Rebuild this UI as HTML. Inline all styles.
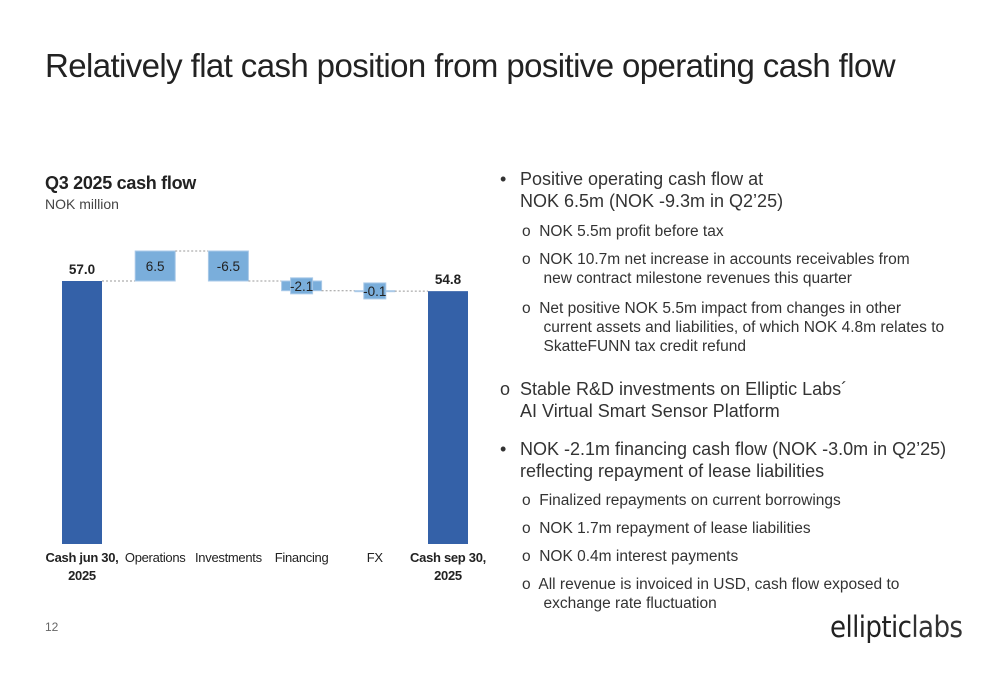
<!DOCTYPE html>
<html><head><meta charset="utf-8"><style>
body{margin:0;width:1000px;height:685px;background:#fff;font-family:"Liberation Sans",sans-serif;position:relative;overflow:hidden;color:#222}
.abs{position:absolute}
.t{font-size:33px;left:45px;top:47px;color:#222;font-weight:300;letter-spacing:-0.6px}
.b{position:absolute;font-size:18px;color:#333;line-height:22px}
.s{position:absolute;font-size:15.5px;color:#333;line-height:19px}
</style></head><body>
<div class="abs t">Relatively flat cash position from positive operating cash flow</div>
<div class="abs" style="left:45px;top:173px;font-size:18px;font-weight:bold;letter-spacing:-0.3px">Q3 2025 cash flow</div>
<div class="abs" style="left:45px;top:196px;font-size:14px;color:#444">NOK million</div>
<svg class="abs" style="left:0;top:0" width="500" height="600" id="ch"></svg>
<div class="abs" style="left:45px;top:620px;font-size:12px;color:#666">12</div>

<div class="b" style="left:500px;top:168px">•<span style="position:absolute;left:20px;width:400px">Positive operating cash flow at<br>NOK 6.5m (NOK -9.3m in Q2’25)</span></div>
<div class="s" style="left:522px;top:222px">o&nbsp; NOK 5.5m profit before tax</div>
<div class="s" style="left:522px;top:250px;width:420px">o&nbsp; NOK 10.7m net increase in accounts receivables from<br>&nbsp;&nbsp;&nbsp;&nbsp; new contract milestone revenues this quarter</div>
<div class="s" style="left:522px;top:299px;width:440px">o&nbsp; Net positive NOK 5.5m impact from changes in other<br>&nbsp;&nbsp;&nbsp;&nbsp; current assets and liabilities, of which NOK 4.8m relates to<br>&nbsp;&nbsp;&nbsp;&nbsp; SkatteFUNN tax credit refund</div>
<div class="b" style="left:500px;top:378px">o<span style="position:absolute;left:20px;width:400px">Stable R&amp;D investments on Elliptic Labs´<br>AI Virtual Smart Sensor Platform</span></div>
<div class="b" style="left:500px;top:438px">•<span style="position:absolute;left:20px;width:440px">NOK -2.1m financing cash flow (NOK -3.0m in Q2’25)<br>reflecting repayment of lease liabilities</span></div>
<div class="s" style="left:522px;top:491px">o&nbsp; Finalized repayments on current borrowings</div>
<div class="s" style="left:522px;top:519px">o&nbsp; NOK 1.7m repayment of lease liabilities</div>
<div class="s" style="left:522px;top:547px">o&nbsp; NOK 0.4m interest payments</div>
<div class="s" style="left:522px;top:575px;width:420px">o&nbsp; All revenue is invoiced in USD, cash flow exposed to<br>&nbsp;&nbsp;&nbsp;&nbsp; exchange rate fluctuation</div>
<div class="abs" style="left:830px;top:610px;font-size:29px;color:#222;font-family:'DejaVu Sans Condensed','DejaVu Sans',sans-serif;letter-spacing:-0.6px">elliptic<span style="font-weight:200;color:#333">labs</span></div>

<script>
const categories=["Cash jun 30, 2025","Operations","Investments","Financing","FX","Cash sep 30, 2025"];
const values=[57.0,6.5,-6.5,-2.1,-0.1,54.8];
const isTotal=[true,false,false,false,false,true];
const labels=["57.0","6.5","-6.5","-2.1","-0.1","54.8"];
const NS="http://www.w3.org/2000/svg";
const svg=document.getElementById('ch');
const base=544, k=263/57, x0=82, step=73.2, bw=40;
const y=v=>base-v*k, xc=i=>x0+i*step;
function mk(t,a){const e=document.createElementNS(NS,t);for(const n in a)e.setAttribute(n,a[n]);svg.appendChild(e);return e;}
let run=0;
values.forEach((v,i)=>{
  let lo,hi,prev=run;
  if(isTotal[i]){lo=0;hi=v;run=v;} else {run+=v;lo=Math.min(prev,run);hi=Math.max(prev,run);}
  const top=y(hi),bot=y(lo),h=Math.max(bot-top,1);
  if(i>0){const cv=isTotal[i]?v:prev;
    const ln=mk('line',{x1:xc(i-1)+bw/2,x2:xc(i)-bw/2,y1:y(cv),y2:y(cv),stroke:'#999','stroke-dasharray':'2,2','stroke-width':1});
    }
  const r=mk('rect',{x:xc(i)-bw/2,y:top,width:bw,height:h,fill:isTotal[i]?'#3461a8':'#7aaedb',stroke:isTotal[i]?'none':'#a9c9e8'});
  
  let t;
  if(isTotal[i]){t=mk('text',{x:xc(i),y:top-7,'text-anchor':'middle','font-size':13.5,'font-weight':'bold',fill:'#222'});}
  else{ if(h<16){const bx=mk('rect',{x:xc(i)-11,y:(top+bot)/2-8,width:22,height:16,fill:'#7aaedb',stroke:'#a9c9e8'});}
    t=mk('text',{x:xc(i),y:(top+bot)/2+5,'text-anchor':'middle','font-size':13.5,fill:'#222'});}
  t.textContent=labels[i];
  const parts=categories[i].split(', ');
  parts.forEach((p,j)=>{const c=mk('text',{x:xc(i),y:562+j*18,'text-anchor':'middle','font-size':13,'font-weight':isTotal[i]?'bold':'normal',fill:'#222','letter-spacing':'-0.3'});
    c.textContent=p+(j<parts.length-1?',':'');});
});
</script>
</body></html>
